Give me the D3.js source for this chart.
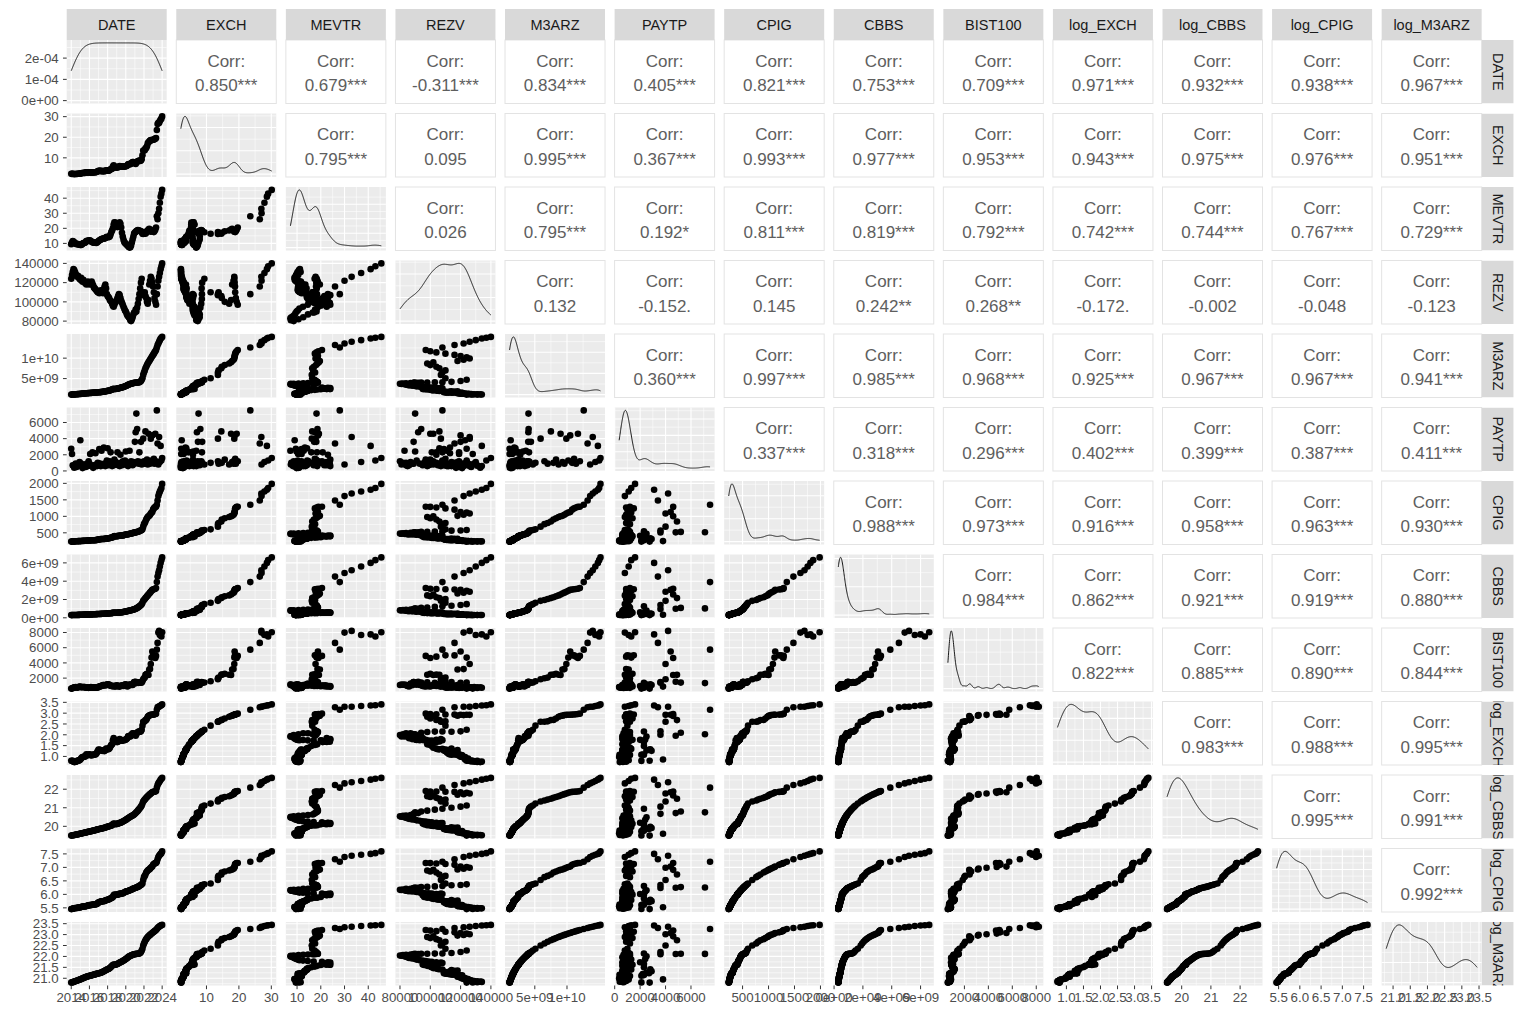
<!DOCTYPE html>
<html><head><meta charset="utf-8">
<script src="https://cdn.jsdelivr.net/npm/d3@7"></script>
<style>
body{margin:0;background:#fff}
svg text{font-family:"Liberation Sans",Arial,Helvetica,sans-serif}
</style>
</head><body>
<svg id="c" width="1524" height="1020"></svg>
<script>
// ---------------- DATA ----------------
const VARS = ["DATE","EXCH","MEVTR","REZV","M3ARZ","PAYTP","CPIG","CBBS","BIST100","log_EXCH","log_CBBS","log_CPIG","log_M3ARZ"];

const DATE = [
"2014-01","2014-02","2014-03","2014-04","2014-05","2014-06","2014-07","2014-08","2014-09","2014-10","2014-11","2014-12",
"2015-01","2015-02","2015-03","2015-04","2015-05","2015-06","2015-07","2015-08","2015-09","2015-10","2015-11","2015-12",
"2016-01","2016-02","2016-03","2016-04","2016-05","2016-06","2016-07","2016-08","2016-09","2016-10","2016-11","2016-12",
"2017-01","2017-02","2017-03","2017-04","2017-05","2017-06","2017-07","2017-08","2017-09","2017-10","2017-11","2017-12",
"2018-01","2018-02","2018-03","2018-04","2018-05","2018-06","2018-07","2018-08","2018-09","2018-10","2018-11","2018-12",
"2019-01","2019-02","2019-03","2019-04","2019-05","2019-06","2019-07","2019-08","2019-09","2019-10","2019-11","2019-12",
"2020-01","2020-02","2020-03","2020-04","2020-05","2020-06","2020-07","2020-08","2020-09","2020-10","2020-11","2020-12",
"2021-01","2021-02","2021-03","2021-04","2021-05","2021-06","2021-07","2021-08","2021-09","2021-10","2021-11","2021-12",
"2022-01","2022-02","2022-03","2022-04","2022-05","2022-06","2022-07","2022-08","2022-09","2022-10","2022-11","2022-12",
"2023-01","2023-02","2023-03","2023-04","2023-05","2023-06","2023-07","2023-08","2023-09","2023-10","2023-11","2023-12",
"2024-01"];

const EXCH = [
2.22,2.21,2.22,2.14,2.09,2.11,2.14,2.16,2.22,2.25,2.24,2.29,
2.36,2.47,2.59,2.65,2.65,2.71,2.68,2.80,2.99,2.92,2.87,2.92,
2.99,2.93,2.89,2.84,2.93,2.93,2.97,2.96,2.97,3.07,3.25,3.49,
3.73,3.68,3.66,3.65,3.56,3.52,3.56,3.52,3.48,3.67,3.89,3.85,
3.77,3.78,3.89,4.06,4.41,4.63,4.75,5.74,6.33,5.85,5.34,5.31,
5.37,5.27,5.42,5.77,6.05,5.85,5.68,5.64,5.71,5.81,5.74,5.80,
5.92,6.06,6.30,6.86,6.97,6.83,6.86,7.31,7.56,7.91,7.93,7.56,
7.38,7.06,7.56,8.11,8.39,8.57,8.60,8.50,8.67,9.35,11.28,13.53,
13.54,13.74,14.58,14.72,15.64,17.00,17.59,17.92,18.35,18.58,18.60,18.69,
18.80,18.86,19.06,19.32,19.65,23.52,26.44,26.99,26.93,27.88,28.64,29.03,
30.13];

const MEVTR = [
9.5,10.5,11.5,11.2,10.8,10.2,9.8,9.5,9.6,9.5,9.3,9.2,
9.0,8.9,9.3,9.8,10.2,10.3,10.4,10.8,11.5,11.8,11.6,11.9,
12.0,11.9,11.5,11.1,10.8,10.6,10.4,10.5,10.4,10.3,10.6,11.1,
11.6,11.9,12.2,12.6,12.8,13.0,13.1,13.3,13.2,13.5,14.0,14.3,
14.2,14.1,14.3,14.8,16.0,17.5,18.5,20.0,22.5,24.0,23.8,22.5,
21.8,20.8,21.5,23.0,24.0,23.0,20.5,17.0,14.5,12.5,11.0,10.3,
9.8,9.3,8.8,8.3,7.6,7.2,7.4,8.6,10.6,12.6,14.6,16.6,
17.2,17.6,18.2,18.6,18.8,18.6,18.4,18.3,18.1,17.4,16.4,16.2,
17.6,16.8,16.4,17.1,18.0,18.6,19.2,19.6,18.6,17.8,18.3,18.8,
18.0,17.5,18.2,19.0,20.5,28.0,26.0,30.0,33.0,37.0,41.0,43.0,
45.5];

const REZV = [
124000,128000,131000,134000,133000,131000,129000,127000,126000,127000,125000,124000,
123000,125000,122000,121000,123000,121000,120000,119000,118000,120000,121000,119000,
118000,119000,120000,121000,119000,117000,115000,114000,113000,112000,111000,110000,
110000,109000,111000,112000,111000,110000,109000,113000,116000,118000,114000,108000,
106000,105000,104000,102000,101000,100000,98000,96000,95000,97000,99000,100000,
102000,104000,106000,108000,107000,104000,101000,99000,97000,95000,93000,91000,
90000,88000,86000,85000,84000,83000,81000,80000,82000,84000,87000,89000,
89000,92000,90000,94000,98000,103000,108000,114000,120000,124000,110000,107000,
108000,110000,106000,104000,100000,98000,102000,118000,122000,126000,124000,120000,
116000,110000,104000,100000,97000,108000,116000,122000,126000,130000,134000,137000,
140000];

// M3ARZ in millions
const M3ARZ_MN = [
1080,1090,1100,1115,1130,1145,1160,1175,1190,1205,1220,1240,
1250,1270,1290,1310,1330,1350,1370,1390,1410,1425,1440,1455,
1470,1480,1495,1510,1525,1540,1555,1570,1590,1610,1625,1640,
1650,1665,1680,1700,1720,1750,1780,1810,1850,1880,1920,1960,
1990,2020,2060,2100,2180,2250,2330,2420,2480,2450,2440,2470,
2500,2540,2600,2650,2700,2740,2790,2850,2900,2960,3020,3100,
3180,3250,3350,3450,3550,3620,3700,3750,3800,3850,3900,3950,
3980,4000,4020,4040,4060,4080,4100,4200,4400,4700,5100,5900,
6500,7000,7500,7900,8300,8700,9000,9300,9600,9900,10200,10500,
10800,11100,11400,11700,12000,12600,13200,13600,14000,14400,14800,15000,
15200];

const PAYTP = [
2750,2100,700,600,400,650,900,500,600,800,700,1100,
3800,900,600,350,700,600,800,500,700,900,600,1200,
900,2100,700,600,2300,380,700,600,2200,800,600,1000,
700,2700,900,600,2500,800,700,2900,900,600,800,1300,
2800,700,900,1200,2300,800,600,1000,700,1400,900,1100,
800,2300,700,900,600,2000,1000,700,1200,800,900,1300,
2400,900,700,600,1000,2500,800,1200,1000,700,1100,900,
3600,4800,7100,5200,1200,900,2300,1100,3600,800,1000,4000,
1200,900,4900,1000,1400,800,4600,1100,900,4000,1300,4400,
1000,1500,900,4600,1200,7500,3400,800,4200,1100,3100,1300,
1600];

const CPIG = [
233.5,234.5,237.2,240.4,241.3,242.1,243.2,243.4,243.7,248.4,248.8,247.7,
249.8,251.8,254.3,256.1,257.4,257.3,258.2,259.0,261.0,264.2,265.4,269.5,
271.0,271.1,271.1,272.7,275.5,277.1,276.3,276.7,277.7,281.9,283.3,292.5,
299.2,301.5,305.2,308.2,311.4,311.3,311.8,313.9,316.0,319.9,325.3,327.4,
331.1,333.2,336.5,341.9,347.0,354.9,357.0,366.7,389.3,399.4,395.5,393.9,
398.8,398.5,402.8,409.2,415.9,409.9,416.6,417.8,418.0,428.8,430.5,440.5,
448.0,450.3,452.8,456.7,462.4,468.7,473.2,477.2,482.8,494.8,497.9,504.8,
510.0,514.6,519.0,528.3,532.3,541.7,550.0,565.7,571.6,585.1,604.8,686.9,
763.2,799.9,843.6,904.8,940.9,977.9,1001.0,1015.0,1046.9,1084.0,1115.0,1128.5,
1203.5,1241.3,1269.8,1285.6,1291.7,1351.6,1479.2,1614.3,1691.9,1753.7,1806.5,1859.4,
1984.0];

// CBBS in millions
const CBBS_MN = [
294,296,299,301,304,306,309,311,314,317,320,323,
326,329,332,335,338,342,345,348,352,355,359,362,
366,369,373,377,380,384,388,392,396,400,405,412,
415,419,423,427,431,435,440,444,449,455,462,470,
475,480,486,492,500,508,516,540,565,555,548,545,
550,556,565,575,580,590,600,612,625,640,655,670,
690,705,725,750,770,790,810,830,850,870,895,920,
950,990,1030,1080,1130,1190,1250,1320,1400,1490,1650,1850,
1950,2050,2150,2250,2350,2450,2550,2650,2750,2850,2950,3050,
3100,3120,3150,3180,3250,3900,4500,4900,5200,5600,6000,6300,
6600];

const BIST100 = [
619,623,697,727,794,785,820,801,746,789,848,857,
881,812,808,834,836,820,812,758,730,786,754,717,
724,758,833,806,749,768,769,766,764,788,730,781,
853,895,889,947,975,1004,1075,1100,1029,1094,1061,1153,
1193,1142,1149,1044,1014,965,971,929,990,911,954,913,
1041,1038,938,925,881,965,1016,984,1046,970,1096,1144,
1179,1065,890,962,1056,1142,1167,1089,1119,1092,1275,1477,
1490,1520,1345,1410,1450,1376,1398,1473,1390,1423,1580,1857,
1990,2068,2431,2455,2558,2448,2406,3125,3186,3849,4700,5509,
4987,4993,4823,4643,4920,5744,6632,7985,8212,7668,7750,7470,
8038];

// axis breaks and labels
const TICKS = {
  DATE:["2014-01-01","2016-01-01","2018-01-01","2020-01-01","2022-01-01","2024-01-01"],
  EXCH:[10,20,30], MEVTR:[10,20,30,40], REZV:[80000,100000,120000,140000],
  M3ARZ:[5e9,1e10], PAYTP:[0,2000,4000,6000], CPIG:[500,1000,1500,2000],
  CBBS:[0,2e9,4e9,6e9], BIST100:[2000,4000,6000,8000],
  log_EXCH:[1,1.5,2,2.5,3,3.5], log_CBBS:[20,21,22], log_CPIG:[5.5,6,6.5,7,7.5],
  log_M3ARZ:[21,21.5,22,22.5,23,23.5]
};
const TICK_LABELS = {
  DATE:["2014","2016","2018","2020","2022","2024"],
  EXCH:["10","20","30"], MEVTR:["10","20","30","40"], REZV:["80000","100000","120000","140000"],
  M3ARZ:["5e+09","1e+10"], PAYTP:["0","2000","4000","6000"], CPIG:["500","1000","1500","2000"],
  CBBS:["0e+00","2e+09","4e+09","6e+09"], BIST100:["2000","4000","6000","8000"],
  log_EXCH:["1.0","1.5","2.0","2.5","3.0","3.5"], log_CBBS:["20","21","22"],
  log_CPIG:["5.5","6.0","6.5","7.0","7.5"], log_M3ARZ:["21.0","21.5","22.0","22.5","23.0","23.5"]
};
const DATE_DENS_TICKS = [0,1e-4,2e-4];
const DATE_DENS_LABELS = ["0e+00","1e-04","2e-04"];

// upper-triangle correlation labels, row by row
const CORR = [
 ["0.850***","0.679***","-0.311***","0.834***","0.405***","0.821***","0.753***","0.709***","0.971***","0.932***","0.938***","0.967***"],
 ["0.795***","0.095","0.995***","0.367***","0.993***","0.977***","0.953***","0.943***","0.975***","0.976***","0.951***"],
 ["0.026","0.795***","0.192*","0.811***","0.819***","0.792***","0.742***","0.744***","0.767***","0.729***"],
 ["0.132","-0.152.","0.145","0.242**","0.268**","-0.172.","-0.002","-0.048","-0.123"],
 ["0.360***","0.997***","0.985***","0.968***","0.925***","0.967***","0.967***","0.941***"],
 ["0.337***","0.318***","0.296***","0.402***","0.399***","0.387***","0.411***"],
 ["0.988***","0.973***","0.916***","0.958***","0.963***","0.930***"],
 ["0.984***","0.862***","0.921***","0.919***","0.880***"],
 ["0.822***","0.885***","0.890***","0.844***"],
 ["0.983***","0.988***","0.995***"],
 ["0.995***","0.991***"],
 ["0.992***"]
];

// ---------------- BUILD ----------------
const MN = 1e6;
const cols = {
  DATE: DATE.map(s => Date.parse(s + "-01T00:00:00Z")),
  EXCH, MEVTR, REZV,
  M3ARZ: M3ARZ_MN.map(v => v * MN),
  PAYTP, CPIG,
  CBBS: CBBS_MN.map(v => v * MN),
  BIST100
};
cols.log_EXCH = cols.EXCH.map(Math.log);
cols.log_CBBS = cols.CBBS.map(Math.log);
cols.log_CPIG = cols.CPIG.map(Math.log);
cols.log_M3ARZ = cols.M3ARZ.map(Math.log);
const ticksNum = {};
for (const v of VARS) ticksNum[v] = v === "DATE" ? TICKS.DATE.map(s => Date.parse(s + "T00:00:00Z")) : TICKS[v];

const L0 = 66.7, PW = 100, CP = 109.58, T0 = 40, PH = 63.5, RP = 73.5;
const N = VARS.length;
const px = j => L0 + j * CP, py = i => T0 + i * RP;
const AX_FS = "13.3px", STRIP_FS = "14.5px", CORR_FS = "17px";

function expand(ext){ const r = ext[1] - ext[0]; return [ext[0] - 0.05 * r, ext[1] + 0.05 * r]; }
const dom = {}, xs = {}, ys = {};
for (const v of VARS) {
  dom[v] = expand(d3.extent(cols[v]));
  xs[v] = d3.scaleLinear().domain(dom[v]).range([0, PW]);
  ys[v] = d3.scaleLinear().domain(dom[v]).range([PH, 0]);
}
function inDom(t, d){ return t >= Math.min(d[0], d[1]) && t <= Math.max(d[0], d[1]); }
function minors(b, d){
  b = b.filter(t => inDom(t, d));
  if (b.length < 2) return [];
  const st = b[1] - b[0];
  const e = [b[0] - st, ...b, b[b.length - 1] + st];
  const out = [];
  for (let k = 0; k < e.length - 1; k++) out.push((e[k] + e[k + 1]) / 2);
  return out.filter(t => inDom(t, d));
}
// gaussian KDE with R's nrd0 bandwidth
function kde(vals){
  const n = vals.length, s = [...vals].sort((a, b) => a - b);
  const sd = d3.deviation(vals), iqr = d3.quantile(s, 0.75) - d3.quantile(s, 0.25);
  const bw = 0.9 * Math.min(sd, iqr / 1.34) * Math.pow(n, -0.2);
  const lo = s[0], hi = s[n - 1], pts = [];
  for (let k = 0; k < 512; k++) {
    const x = lo + (hi - lo) * k / 511; let acc = 0;
    for (const v of vals) { const z = (x - v) / bw; acc += Math.exp(-0.5 * z * z); }
    pts.push([x, acc / (n * bw * Math.sqrt(2 * Math.PI))]);
  }
  return pts;
}

const svg = d3.select("#c");
svg.append("rect").attr("width", 1524).attr("height", 1020).attr("fill", "#fff");
const defs = svg.append("defs");

function gridLines(g, xsc, xt, xm, ysc, yt, ym){
  const gg = g.append("g").attr("stroke", "#fff").attr("fill", "none");
  gg.selectAll(".xm").data(xm).join("line").attr("x1", d => xsc(d)).attr("x2", d => xsc(d)).attr("y1", 0).attr("y2", PH).attr("stroke-width", 0.55);
  gg.selectAll(".ym").data(ym).join("line").attr("y1", d => ysc(d)).attr("y2", d => ysc(d)).attr("x1", 0).attr("x2", PW).attr("stroke-width", 0.55);
  gg.selectAll(".xM").data(xt).join("line").attr("x1", d => xsc(d)).attr("x2", d => xsc(d)).attr("y1", 0).attr("y2", PH).attr("stroke-width", 1.1);
  gg.selectAll(".yM").data(yt).join("line").attr("y1", d => ysc(d)).attr("y2", d => ysc(d)).attr("x1", 0).attr("x2", PW).attr("stroke-width", 1.1);
}

const densScales = {};
for (let i = 0; i < N; i++) {
  for (let j = 0; j < N; j++) {
    const g = svg.append("g").attr("transform", `translate(${px(j)},${py(i)})`);
    const vx = VARS[j], vy = VARS[i];
    if (i < j) {
      g.append("rect").attr("width", PW).attr("height", PH).attr("fill", "#fff").attr("stroke", "#E3E3E3").attr("stroke-width", 1);
      const t = g.append("g").attr("fill", "#5E5E5E").attr("text-anchor", "middle").style("font-size", CORR_FS);
      t.append("text").attr("x", PW / 2).attr("y", PH / 2 - 5).text("Corr:");
      t.append("text").attr("x", PW / 2).attr("y", PH / 2 + 19.5).text(CORR[i][j - i - 1]);
      continue;
    }
    g.append("rect").attr("width", PW).attr("height", PH).attr("fill", "#EBEBEB");
    const xt = ticksNum[vx].filter(t => inDom(t, dom[vx]));
    const xm = minors(ticksNum[vx], dom[vx]);
    if (i === j) {
      const src = vx === "DATE" ? cols.DATE.map(d => d / 864e5) : cols[vx];
      const pts = kde(src).map(p => vx === "DATE" ? [p[0] * 864e5, p[1]] : p);
      const mx = d3.max(pts, p => p[1]);
      const ysd = d3.scaleLinear().domain([-0.05 * mx, 1.05 * mx]).range([PH, 0]);
      densScales[vx] = ysd;
      const yt = vx === "DATE" ? DATE_DENS_TICKS : d3.ticks(0, mx, 3);
      const ym = minors(yt, ysd.domain());
      gridLines(g, xs[vx], xt, xm, ysd, yt, ym);
      g.append("path").attr("d", d3.line().x(p => xs[vx](p[0])).y(p => ysd(p[1]))(pts))
        .attr("fill", "none").attr("stroke", "#000").attr("stroke-width", 0.9);
    } else {
      const yt = ticksNum[vy].filter(t => inDom(t, dom[vy]));
      const ym = minors(ticksNum[vy], dom[vy]);
      gridLines(g, xs[vx], xt, xm, ys[vy], yt, ym);
      const idx = d3.range(cols[vx].length);
      g.append("g").selectAll("circle").data(idx).join("circle")
        .attr("cx", k => xs[vx](cols[vx][k])).attr("cy", k => ys[vy](cols[vy][k]))
        .attr("r", 3.3).attr("fill", "#000");
    }
  }
}

// top strips
for (let j = 0; j < N; j++) {
  const g = svg.append("g").attr("transform", `translate(${px(j)},9)`);
  g.append("rect").attr("width", PW).attr("height", 31).attr("fill", "#D9D9D9");
  g.append("text").attr("x", PW / 2).attr("y", 15.5).attr("dy", "0.35em").attr("text-anchor", "middle")
    .attr("fill", "#1A1A1A").style("font-size", STRIP_FS).text(VARS[j]);
}
// right strips
const SX = px(N - 1) + PW, SW = 32;
for (let i = 0; i < N; i++) {
  const id = "rs" + i;
  defs.append("clipPath").attr("id", id).append("rect").attr("x", 0).attr("y", 0).attr("width", SW).attr("height", PH);
  const g = svg.append("g").attr("transform", `translate(${SX},${py(i)})`).attr("clip-path", `url(#${id})`);
  g.append("rect").attr("width", SW).attr("height", PH).attr("fill", "#D9D9D9");
  g.append("text").attr("transform", `translate(${SW / 2},${PH / 2}) rotate(90)`).attr("dy", "0.35em")
    .attr("text-anchor", "middle").attr("fill", "#1A1A1A").style("font-size", STRIP_FS).text(VARS[i]);
}

// left axes
for (let i = 0; i < N; i++) {
  const g = svg.append("g").attr("transform", `translate(${L0},${py(i)})`);
  let sc, tk, lb;
  if (i === 0) { sc = densScales.DATE; tk = DATE_DENS_TICKS; lb = DATE_DENS_LABELS; }
  else { const v = VARS[i]; sc = ys[v]; tk = ticksNum[v]; lb = TICK_LABELS[v]; }
  tk.forEach((t, k) => {
    if (!inDom(t, sc.domain())) return;
    const y = sc(t);
    g.append("line").attr("x1", -3.7).attr("x2", 0).attr("y1", y).attr("y2", y).attr("stroke", "#333").attr("stroke-width", 1);
    g.append("text").attr("x", -8).attr("y", y).attr("dy", "0.36em").attr("text-anchor", "end")
      .attr("fill", "#4D4D4D").style("font-size", AX_FS).text(lb[k]);
  });
}
// bottom axes
const BY = py(N - 1) + PH;
for (let j = 0; j < N; j++) {
  const v = VARS[j];
  const g = svg.append("g").attr("transform", `translate(${px(j)},${BY})`);
  ticksNum[v].forEach((t, k) => {
    if (!inDom(t, dom[v])) return;
    const x = xs[v](t);
    g.append("line").attr("x1", x).attr("x2", x).attr("y1", 0).attr("y2", 3.7).attr("stroke", "#333").attr("stroke-width", 1);
    g.append("text").attr("x", x).attr("y", 16.3).attr("text-anchor", "middle")
      .attr("fill", "#4D4D4D").style("font-size", AX_FS).text(TICK_LABELS[v][k]);
  });
}
</script>
</body></html>
